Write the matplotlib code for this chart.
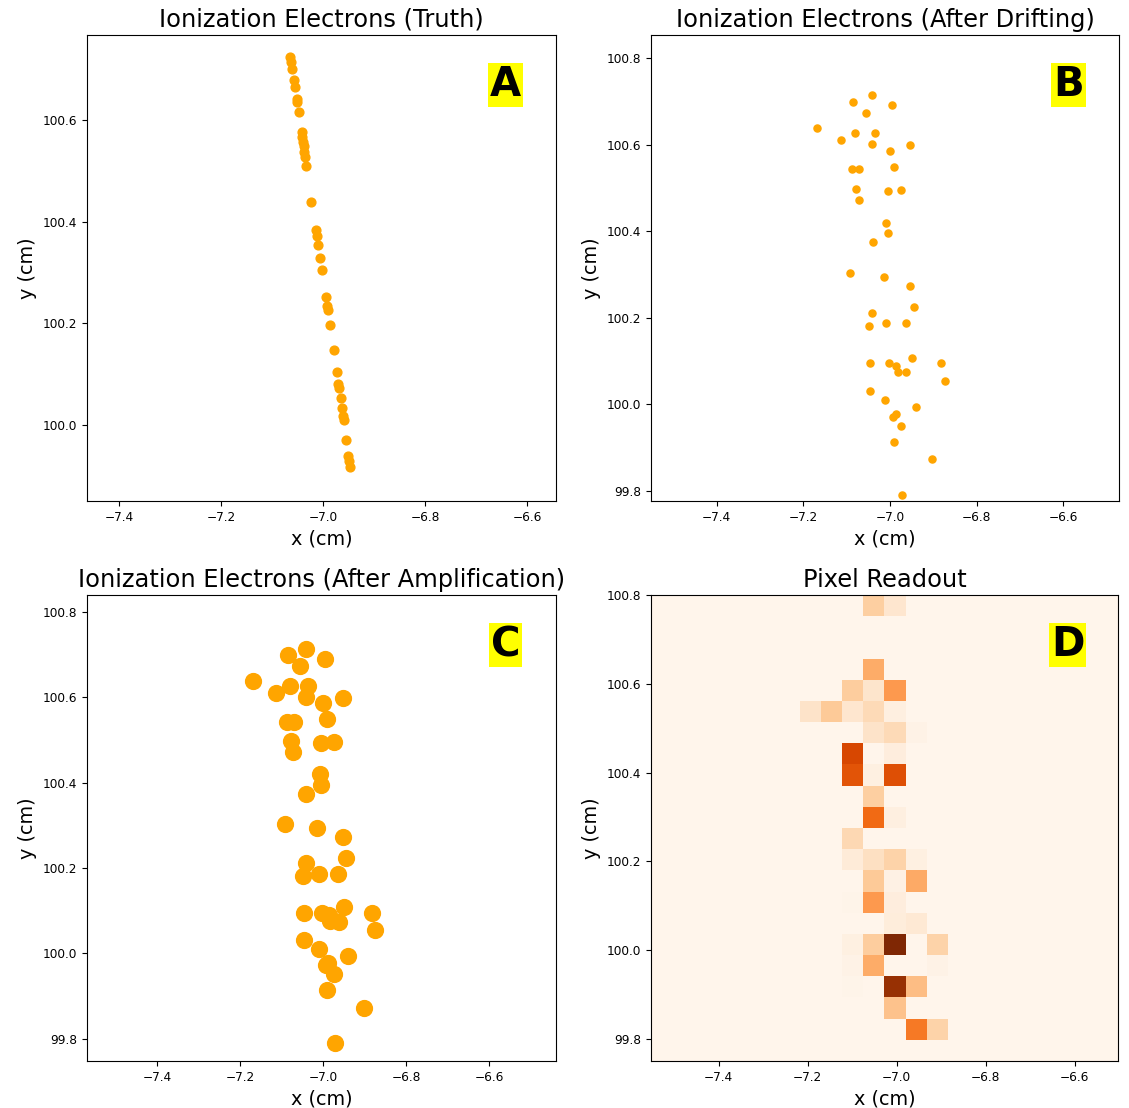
import numpy as np
import matplotlib
matplotlib.use("Agg")
import matplotlib.pyplot as plt

# --- truth electrons (panel A)
truth_x = [-7.0647, -7.0627, -7.0608, -7.0575, -7.0555, -7.0516, -7.0504, -7.0471,
           -7.0418, -7.0406, -7.0392, -7.0378, -7.0367, -7.0347, -7.0327, -7.0229,
           -7.0137, -7.0118, -7.0098, -7.0053, -7.0020, -6.9941, -6.9922, -6.9908,
           -6.9869, -6.9784, -6.9732, -6.9706, -6.9686, -6.9653, -6.9633, -6.9614,
           -6.9594, -6.9549, -6.9504, -6.9484, -6.9465]
truth_y = [100.724, 100.713, 100.701, 100.679, 100.665, 100.641, 100.636, 100.615,
           100.577, 100.567, 100.557, 100.549, 100.536, 100.526, 100.509, 100.439,
           100.383, 100.371, 100.353, 100.329, 100.305, 100.252, 100.233, 100.225,
           100.196, 100.147, 100.103, 100.081, 100.073, 100.052, 100.033, 100.018,
           100.010, 99.970, 99.938, 99.928, 99.917]

# --- electrons after drifting (panels B and C)
drift_x = [-7.0416, -7.0848, -6.9962, -7.0547, -7.1686, -7.0808, -7.0355, -7.1141,
           -7.0416, -6.9531, -7.0009, -7.0878, -7.0709, -6.9908, -7.0786, -7.0056,
           -6.9739, -7.0725, -7.0085, -7.0056, -7.0402, -7.0917, -7.0148, -6.9531,
           -6.9455, -7.0416, -7.0485, -7.0092, -6.9640, -6.9494, -7.0462, -7.0032,
           -6.9861, -6.9824, -6.9623, -6.8815, -6.8739, -7.0462, -7.0109, -6.9393,
           -6.9932, -6.9872, -6.9747, -6.9908, -6.9024, -6.9716]
drift_y = [100.714, 100.699, 100.691, 100.674, 100.639, 100.627, 100.627, 100.610,
           100.602, 100.598, 100.586, 100.543, 100.543, 100.549, 100.497, 100.493,
           100.495, 100.471, 100.420, 100.395, 100.374, 100.304, 100.294, 100.273,
           100.224, 100.212, 100.181, 100.187, 100.187, 100.108, 100.095, 100.095,
           100.089, 100.075, 100.074, 100.095, 100.055, 100.031, 100.011, 99.993,
           99.972, 99.977, 99.951, 99.914, 99.873, 99.791]

# --- pixel readout (panel D): 22x22 pixels, row counted from the top
n_pix = 22
pix_extent = [-7.552, -6.503, 99.75, 100.80]
pix_row = [0, 0, 3, 4, 4, 4, 5, 5, 5, 5, 5, 6, 6, 6, 7, 7, 8, 8, 8, 9, 10, 10, 11,
           12, 12, 12, 12, 13, 13, 13, 14, 14, 14, 15, 15, 16, 16, 16, 16, 17, 17,
           17, 18, 18, 18, 19, 20, 20]
pix_col = [10, 11, 10, 9, 10, 11, 7, 8, 9, 10, 11, 10, 11, 12, 9, 11, 9, 10, 11, 10,
           10, 11, 9, 9, 10, 11, 12, 10, 11, 12, 9, 10, 11, 11, 12, 9, 10, 11, 13,
           9, 10, 13, 9, 11, 12, 11, 12, 13]
pix_q = [0.25, 0.12, 0.38, 0.26, 0.13, 0.45, 0.14, 0.27, 0.12, 0.19, 0.05, 0.14,
         0.19, 0.02, 0.75, 0.06, 0.70, 0.04, 0.72, 0.25, 0.62, 0.05, 0.20, 0.08,
         0.16, 0.23, 0.04, 0.27, 0.03, 0.39, 0.01, 0.45, 0.06, 0.07, 0.10, 0.04,
         0.26, 1.00, 0.23, 0.02, 0.38, 0.02, 0.01, 0.92, 0.32, 0.30, 0.57, 0.23]

W, H = 1129, 1108
fig = plt.figure(figsize=(W / 100, H / 100), dpi=100)


def px_axes(x0, y0, x1, y1):
    return fig.add_axes([x0 / W, 1 - y1 / H, (x1 - x0) / W, (y1 - y0) / H])


TITLE, LABEL, TICK, TAG = 17.4, 13.9, 8.7, 29

ax_a = px_axes(87, 35, 556, 501)
ax_b = px_axes(651, 35, 1119, 501)
ax_c = px_axes(87, 595, 556, 1061)
ax_d = px_axes(651, 595, 1118, 1061)

ax_a.scatter(truth_x, truth_y, s=40, color="orange")
ax_a.set_xlim(-7.463, -6.543)
ax_a.set_ylim(99.850, 100.767)
ax_a.set_title("Ionization Electrons (Truth)", fontsize=TITLE)

ax_b.scatter(drift_x, drift_y, s=26, color="orange")
ax_b.set_xlim(-7.552, -6.471)
ax_b.set_ylim(99.777, 100.853)
ax_b.set_title("Ionization Electrons (After Drifting)", fontsize=TITLE)

ax_c.scatter(drift_x, drift_y, s=130, color="orange")
ax_c.set_xlim(-7.569, -6.439)
ax_c.set_ylim(99.748, 100.840)
ax_c.set_title("Ionization Electrons (After Amplification)", fontsize=TITLE)

grid = np.zeros((n_pix, n_pix))
for r, c, q in zip(pix_row, pix_col, pix_q):
    grid[r, c] = q
ax_d.imshow(grid, cmap="Oranges", vmin=0, vmax=1, extent=pix_extent,
            origin="upper", aspect="auto", interpolation="nearest")
ax_d.set_xlim(pix_extent[0], pix_extent[1])
ax_d.set_ylim(pix_extent[2], pix_extent[3])
ax_d.set_title("Pixel Readout", fontsize=TITLE)

for ax, tag in zip([ax_a, ax_b, ax_c, ax_d], "ABCD"):
    ax.set_xticks([-7.4, -7.2, -7.0, -6.8, -6.6])
    ax.set_xlabel("x (cm)", fontsize=LABEL)
    ax.set_ylabel("y (cm)", fontsize=LABEL)
    ax.tick_params(labelsize=TICK)
    ax.text(0.892, 0.892, tag, transform=ax.transAxes, fontsize=TAG,
            fontweight="bold", ha="center", va="center",
            bbox=dict(facecolor="yellow", edgecolor="none", pad=1.5))

fig.savefig("out.png", dpi=100)
